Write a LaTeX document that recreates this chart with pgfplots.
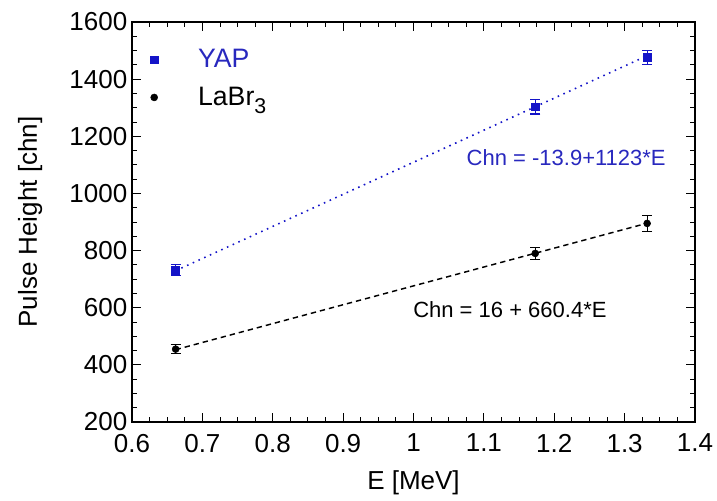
\documentclass[border=0pt]{standalone}
\usepackage{fontspec}
\setmainfont{Liberation Sans}
\usepackage{pgfplots}
\pgfplotsset{compat=1.18}
\definecolor{yapblue}{RGB}{20,20,200}
\definecolor{yaptext}{RGB}{40,40,190}
\begin{document}
\begin{tikzpicture}
\begin{axis}[
  name=ax,
  scale only axis,
  width=422.25pt, height=300pt,
  xmin=0.6, xmax=1.4, ymin=200, ymax=1600,
  xtick={0.6,0.7,0.8,0.9,1,1.1,1.2,1.3,1.4},
  ytick={200,400,600,800,1000,1200,1400,1600},
  xticklabels={0.6,0.7,0.8,0.9,1,1.1,1.2,1.3,1.4},
  yticklabels={200,400,600,800,1000,1200,1400,1600},
  minor tick num=3,
  tick align=inside,
  major tick length=7pt, minor tick length=4pt,
  tick style={black, line width=0.7pt},
  axis line style={line width=0.9pt},
  ticklabel style={font=\fontsize{19.5}{22}\selectfont},
  xticklabel style={yshift=-5.5pt},
  /pgf/number format/assume math mode=true,
  xlabel={E [MeV]}, ylabel={Pulse Height [chn]},
  label style={font=\fontsize{19.5}{22}\selectfont},
  xlabel style={at={(axis description cs:0.5,-0.1525)}, anchor=center},
  ylabel style={at={(axis description cs:-0.181,0.5)}, anchor=center},
  legend style={draw=none, fill=none, at={(0.025,0.945)}, anchor=north west,
    font=\fontsize{20}{22}\selectfont, row sep=9pt, column sep=28pt},
  legend cell align=left,
]
% fit lines
\addplot[yapblue, line width=1.2pt, dash pattern=on 1.2pt off 3.5pt, forget plot] coordinates {(0.662,729.5) (1.332,1481.9)};
\addplot[black, line width=1.1pt, dash pattern=on 4pt off 3pt, forget plot] coordinates {(0.662,453.2) (1.332,895.7)};
% data
\addplot[only marks, mark=square*, mark size=2.9pt, color=yapblue,
  error bars/.cd, y dir=both, y explicit, error mark options={rotate=90, mark size=3.8pt, line width=0.9pt}, error bar style={line width=0.9pt}]
  coordinates {(0.662,732) +- (0,20) (1.173,1303) +- (0,25) (1.332,1476) +- (0,25)};
\addlegendentry{\textcolor{yaptext}{YAP}}
\addplot[only marks, mark=*, mark size=2.6pt, color=black,
  error bars/.cd, y dir=both, y explicit, error mark options={rotate=90, mark size=3.8pt, line width=0.9pt}, error bar style={line width=0.9pt}]
  coordinates {(0.662,455) +- (0,15) (1.173,790) +- (0,20) (1.332,895) +- (0,28)};
\addlegendentry{LaBr\raisebox{-0.55ex}{\fontsize{16}{18}\selectfont 3}}
\node[text=yaptext, font=\fontsize{16.5}{18}\selectfont] at (axis cs:1.217,1127) {Chn = -13.9+1123*E};
\node[text=black, font=\fontsize{16.5}{18}\selectfont] at (axis cs:1.137,592) {Chn = 16 + 660.4*E};
\end{axis}
\pgfresetboundingbox
\useasboundingbox ([xshift=-99pt,yshift=-58.5pt]ax.south west) rectangle ++(537.75pt,375pt);
\end{tikzpicture}
\end{document}
